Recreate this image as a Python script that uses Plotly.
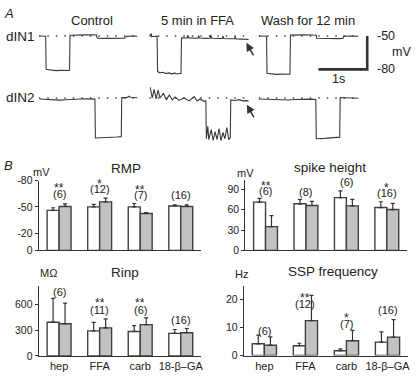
import plotly.graph_objects as go

W, H = 416, 377
def PX(x): return x / W
def PY(y): return 1 - y / H

FONT = "Liberation Sans, Arial, sans-serif"
INK = "#333333"

# ---------------- Panel A data (time in s, membrane potential in mV) ----------------
conditions = ["Control", "5 min in FFA", "Wash for 12 min"]
neurons = ["dIN1", "dIN2"]
baseline_mv = -50

din1_ctrl_t = [0.02, 0.14, 0.15, 0.25, 0.35, 0.45, 0.55, 0.62, 0.63, 0.64, 0.80, 0.95, 1.10, 1.18, 1.19, 1.20, 1.40, 1.55, 1.70, 1.76, 1.77, 1.80, 1.95, 2.02]
din1_ctrl_v = [-50.0, -50.2, -80.0, -80.8, -81.1, -80.9, -81.3, -81.2, -81.0, -49.3, -48.8, -49.0, -48.9, -49.1, -51.0, -51.9, -52.1, -51.9, -52.3, -52.0, -51.0, -50.3, -50.0, -50.2]

din1_ffa_t = [0.00, 0.04, 0.05, 0.07, 0.12, 0.16, 0.17, 0.22, 0.28, 0.34, 0.40, 0.46, 0.52, 0.58, 0.64, 0.65, 0.66, 0.72, 0.78, 0.79, 0.81, 0.90, 1.00, 1.01, 1.03, 1.15, 1.25, 1.26, 1.28, 1.40, 1.50, 1.51, 1.53, 1.65, 1.75, 1.76, 1.78, 1.90, 2.04]
din1_ffa_v = [-50.0, -47.9, -50.8, -50.3, -50.5, -50.2, -82.0, -83.1, -82.6, -83.8, -83.2, -84.0, -83.4, -84.1, -83.5, -83.7, -51.6, -51.4, -51.8, -49.2, -51.7, -51.9, -52.0, -49.6, -51.8, -52.1, -52.0, -49.0, -52.0, -52.3, -52.2, -50.0, -52.3, -52.5, -52.4, -50.3, -52.6, -52.8, -53.1]

din1_wash_t = [0.00, 0.16, 0.17, 0.25, 0.35, 0.45, 0.55, 0.64, 0.65, 0.80, 0.95, 1.10, 1.18, 1.19, 1.35, 1.50, 1.65, 1.73, 1.74, 1.90, 2.04]
din1_wash_v = [-50.0, -50.2, -83.6, -84.2, -84.5, -84.3, -84.6, -84.4, -49.2, -48.9, -49.0, -49.1, -49.3, -52.0, -52.3, -52.1, -52.4, -52.1, -50.2, -50.0, -50.2]

din2_ctrl_t = [0.02, 0.10, 0.18, 0.30, 0.42, 0.55, 0.65, 0.70, 0.85, 1.00, 1.15, 1.16, 1.30, 1.45, 1.60, 1.69, 1.70, 1.80, 1.85, 1.88, 1.92, 2.02]
din2_ctrl_v = [-50.9, -51.2, -51.0, -51.8, -51.9, -51.6, -51.4, -50.7, -50.9, -50.8, -51.0, -85.9, -85.8, -85.4, -85.0, -84.7, -49.6, -49.7, -48.4, -49.4, -49.7, -49.8]

din2_ffa_t = [0.02, 0.06, 0.10, 0.14, 0.18, 0.22, 0.29, 0.35, 0.41, 0.47, 0.53, 0.61, 0.71, 0.82, 0.92, 0.98, 1.04, 1.12, 1.16, 1.17, 1.20, 1.22, 1.27, 1.31, 1.35, 1.39, 1.43, 1.47, 1.51, 1.55, 1.59, 1.63, 1.66, 1.67, 1.76, 1.84, 1.92, 2.00, 2.04]
din2_ffa_v = [-40.4, -50.0, -42.2, -50.9, -43.0, -50.0, -45.7, -51.7, -47.4, -51.7, -49.1, -52.2, -50.0, -52.6, -48.7, -52.6, -50.9, -53.0, -52.5, -86.5, -75.5, -87.5, -78.5, -88.2, -80.2, -87.4, -77.4, -88.2, -81.0, -86.6, -76.6, -87.5, -85.8, -51.8, -52.2, -51.5, -52.6, -52.4, -53.0]

din2_wash_t = [0.00, 0.15, 0.30, 0.45, 0.60, 0.75, 0.90, 1.05, 1.17, 1.18, 1.35, 1.50, 1.66, 1.67, 1.80, 1.95, 2.04]
din2_wash_v = [-50.9, -51.2, -51.0, -51.6, -51.8, -51.4, -51.1, -51.0, -51.3, -86.6, -86.3, -85.9, -85.2, -49.6, -49.9, -50.0, -50.3]

sweep_duration_s = 2.04
scalebar_time_s = 1.0
scalebar_mv = [-50, -80]

# ---------------- Panel B data ----------------
drugs = ["hep", "FFA", "carb", "18-β–GA"]

rmp_ctrl = [-46, -50, -50, -51]
rmp_drug = [-50.5, -55.8, -42.4, -50.5]
rmp_ctrl_err = [3.0, 2.8, 3.9, 1.4]
rmp_drug_err = [3.0, 4.2, 1.1, 1.9]
rmp_n = ["(6)", "(12)", "(7)", "(16)"]
rmp_sig = ["**", "*", "**", ""]

spike_ctrl = [71, 68.5, 77.5, 63]
spike_drug = [35, 66, 65.5, 60]
spike_ctrl_err = [5.5, 6.5, 10, 8.5]
spike_drug_err = [16, 6, 9.5, 9]
spike_n = ["(6)", "(8)", "(6)", "(16)"]
spike_sig = ["**", "", "", "*"]

rinp_ctrl = [390, 290, 283, 261]
rinp_drug = [372, 324, 362, 268]
rinp_ctrl_err = [275, 98, 67, 45]
rinp_drug_err = [237, 105, 78, 49]
rinp_n = ["(6)", "(11)", "(6)", "(16)"]
rinp_sig = ["", "**", "**", ""]

ssp_ctrl = [4.2, 3.5, 1.7, 4.8]
ssp_drug = [3.7, 12.5, 5.3, 6.6]
ssp_ctrl_err = [3.1, 0.9, 0.7, 3.7]
ssp_drug_err = [3.0, 9.1, 3.7, 6.3]
ssp_n = ["(6)", "(12)", "(7)", "(16)"]
ssp_sig = ["", "**", "*", ""]

fig = go.Figure()

# ---------------- Panel A ----------------
sweeps = {
    ("x", "y"): (din1_ctrl_t, din1_ctrl_v),
    ("x2", "y"): (din1_ffa_t, din1_ffa_v),
    ("x3", "y"): (din1_wash_t, din1_wash_v),
    ("x", "y2"): (din2_ctrl_t, din2_ctrl_v),
    ("x2", "y2"): (din2_ffa_t, din2_ffa_v),
    ("x3", "y2"): (din2_wash_t, din2_wash_v),
}
for (xa, ya), (t, v) in sweeps.items():
    fig.add_trace(go.Scatter(x=[0, sweep_duration_s], y=[baseline_mv, baseline_mv], mode="lines",
                             line=dict(color="#444", width=1.6, dash="1.5px,7px"),
                             xaxis=xa, yaxis=ya, hoverinfo="skip", showlegend=False))
    fig.add_trace(go.Scatter(x=t, y=v, mode="lines", line=dict(color="#3a3a3a", width=1.1),
                             xaxis=xa, yaxis=ya, hoverinfo="skip", showlegend=False))

# scale bar (1 s, 30 mV) on the wash column / dIN1 row
sb_end = 2.2245
fig.add_trace(go.Scatter(x=[sb_end - scalebar_time_s, sb_end, sb_end],
                         y=[scalebar_mv[1], scalebar_mv[1], scalebar_mv[0]],
                         mode="lines", line=dict(color=INK, width=2.6),
                         xaxis="x3", yaxis="y", hoverinfo="skip", showlegend=False))

hidden = dict(visible=False, fixedrange=True)
layout = dict(
    xaxis=dict(domain=[PX(39), PX(139)], range=[0, 2.04], anchor="y", **hidden),
    xaxis2=dict(domain=[PX(150), PX(250)], range=[0, 2.04], anchor="y", **hidden),
    xaxis3=dict(domain=[PX(260), PX(372)], range=[0, 112 / 49], anchor="y", **hidden),
    yaxis=dict(domain=[PY(73.5), PY(24.1)], range=[-87, -44], anchor="x", **hidden),
    yaxis2=dict(domain=[PY(143.3), PY(81.2)], range=[-92, -38], anchor="x", **hidden),
)

# ---------------- Panel B ----------------
panels = [
    dict(i=4, xd=(39, 202), yd=(252.5, 180.5), rng=[0, -80], tv=[0, -20, -50, -80], tt=["0", "-20", "-50", "-80"],
         c=rmp_ctrl, d=rmp_drug, ce=rmp_ctrl_err, de=rmp_drug_err, neg=True, showx=False,
         n=rmp_n, s=rmp_sig, ny=[194, 189, 195, 195], sy=[182.5, 178, 184.5, 0]),
    dict(i=5, xd=(246.5, 409), yd=(252.5, 180), rng=[0, 103], tv=[0, 30, 60, 90], tt=["0", "30", "60", "90"],
         c=spike_ctrl, d=spike_drug, ce=spike_ctrl_err, de=spike_drug_err, neg=False, showx=False,
         n=spike_n, s=spike_sig, ny=[191.5, 192.5, 181.5, 193], sy=[180, 0, 0, 182]),
    dict(i=6, xd=(39, 202), yd=(361.5, 289), rng=[0, 810], tv=[0, 300, 600], tt=["0", "300", "600"],
         c=rinp_ctrl, d=rinp_drug, ce=rinp_ctrl_err, de=rinp_drug_err, neg=False, showx=True,
         n=rinp_n, s=rinp_sig, ny=[295.5, 314.5, 314.5, 324], sy=[0, 301, 301, 0]),
    dict(i=7, xd=(245, 410), yd=(361, 289), rng=[0, 25], tv=[0, 10, 20], tt=["0", "10", "20"],
         c=ssp_ctrl, d=ssp_drug, ce=ssp_ctrl_err, de=ssp_drug_err, neg=False, showx=True,
         n=ssp_n, s=ssp_sig, ny=[336, 307.5, 328.5, 314.5], sy=[0, 296, 316, 0]),
]

annotations = []
cats = list(range(len(drugs)))
for p in panels:
    xa, ya = f"x{p['i']}", f"y{p['i']}"
    for vals, errs, fill in ((p["c"], p["ce"], "white"), (p["d"], p["de"], "#c2c2c2")):
        if p["neg"]:
            ey = dict(type="data", symmetric=False, array=[0] * 4, arrayminus=errs,
                      color=INK, thickness=1.2, width=2)
        else:
            ey = dict(type="data", symmetric=False, array=errs, arrayminus=[0] * 4,
                      color=INK, thickness=1.2, width=2)
        fig.add_trace(go.Bar(x=cats, y=vals, marker=dict(color=fill, line=dict(color="#404040", width=1.4)),
                             error_y=ey, xaxis=xa, yaxis=ya, showlegend=False, hoverinfo="skip"))
    layout[f"xaxis{p['i']}"] = dict(domain=[PX(p["xd"][0]), PX(p["xd"][1])], range=[-0.5, 3.5], anchor=ya,
                                    showline=True, linecolor=INK, linewidth=1.3, ticks="",
                                    showgrid=False, zeroline=False, fixedrange=True,
                                    tickvals=cats, ticktext=drugs, showticklabels=p["showx"],
                                    tickfont=dict(size=11, color="#222", family=FONT))
    layout[f"yaxis{p['i']}"] = dict(domain=[PY(p["yd"][0]), PY(p["yd"][1])], range=p["rng"], anchor=xa,
                                    showline=True, linecolor=INK, linewidth=1.3, ticks="outside",
                                    ticklen=3, tickwidth=1, tickcolor=INK,
                                    showgrid=False, zeroline=False, fixedrange=True,
                                    tickvals=p["tv"], ticktext=p["tt"],
                                    tickfont=dict(size=10.5, color="#222", family=FONT))
    for k in range(4):
        annotations.append(dict(text=p["n"][k], x=k, xref=xa, y=PY(p["ny"][k]), yref="paper",
                                showarrow=False, xanchor="center", yanchor="middle",
                                font=dict(size=11, color="#222", family=FONT)))
        if p["s"][k]:
            # asterisks sit in the top of their line box: use a short box so it does not
            # cover the (n) label underneath
            annotations.append(dict(text=p["s"][k], x=k, xref=xa, y=PY(p["sy"][k] - 2.5), yref="paper",
                                    showarrow=False, xanchor="center", yanchor="top",
                                    height=7, valign="top", borderpad=0,
                                    font=dict(size=12, color="#222", family=FONT)))

def txt(s, x, y, size, anchor="center", italic=False):
    t = f"<i>{s}</i>" if italic else s
    annotations.append(dict(text=t, x=PX(x), y=PY(y), xref="paper", yref="paper", showarrow=False,
                            xanchor=anchor, yanchor="middle", font=dict(size=size, color="#222", family=FONT)))

txt("A", 2, 8, 13, "left", italic=True)
txt("B", 2, 165, 13, "left", italic=True)
txt(conditions[0], 92.5, 15, 13)
txt(conditions[1], 198, 15, 13)
txt(conditions[2], 309, 15, 13)
txt(neurons[0], 4, 31, 13.5, "left")
txt(neurons[1], 4, 95, 13.5, "left")
txt("-50", 377, 31, 12.5, "left")
txt("-80", 377, 65, 12.5, "left")
txt("mV", 403, 47, 12.5)
txt("1s", 340, 75, 12.5)

txt("RMP", 127, 168, 13.5)
txt("spike height", 332, 167, 13.5)
txt("Rinp", 126, 275, 13.5)
txt("SSP frequency", 335, 274, 13.5)
txt("mV", 42, 171, 11)
txt("mV", 247, 172, 11)
txt("MΩ", 49, 276, 11)
txt("Hz", 243, 277, 11)

for hx, hy in ((247.5, 38), (248, 102)):
    annotations.append(dict(text="", x=PX(hx), y=PY(hy), xref="paper", yref="paper", showarrow=True,
                            ax=8, ay=14, arrowhead=2, arrowsize=1.1, arrowwidth=1.5, arrowcolor=INK))

fig.update_layout(
    width=W, height=H, autosize=False,
    margin=dict(l=0, r=0, t=0, b=0),
    paper_bgcolor="white", plot_bgcolor="rgba(0,0,0,0)",
    barmode="group", bargap=0.41, bargroupgap=0,
    font=dict(family=FONT, color="#222"),
    annotations=annotations,
    **layout,
)

fig.write_html("out.html", config={"displayModeBar": False},
               post_script="document.body.style.margin='0';document.body.style.overflow='hidden';")
